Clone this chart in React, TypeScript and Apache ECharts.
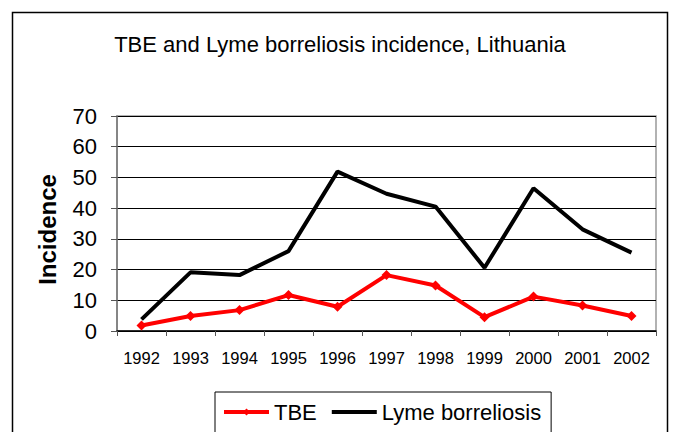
import React, { useEffect, useRef } from "react";
import * as echarts from "echarts";

const years = ["1992", "1993", "1994", "1995", "1996", "1997", "1998", "1999", "2000", "2001", "2002"];
const tbe = [1.8, 4.9, 6.8, 11.7, 7.9, 18.2, 14.8, 4.5, 11.2, 8.3, 4.9];
const lyme = [3.8, 19.1, 18.2, 26.0, 51.9, 44.7, 40.5, 20.6, 46.5, 33.1, 25.5];
const yTicks = { min: 0, max: 70, interval: 10 };

const FONT = "'Liberation Sans', Arial, sans-serif";

export default function App() {
  const ref = useRef<HTMLDivElement>(null);
  useEffect(() => {
    const chart = echarts.init(ref.current!, null, { renderer: "svg" });
    chart.setOption({
      animation: false,
      backgroundColor: "#fff",
      textStyle: { fontFamily: FONT },
      title: {
        text: "TBE and Lyme borreliosis incidence, Lithuania",
        left: 335,
        textAlign: "center",
        top: 28,
        textStyle: { fontFamily: FONT, fontSize: 22, fontWeight: "normal", color: "#000" },
      },
      graphic: [
        {
          type: "rect",
          shape: { x: 12.5, y: 12.5, width: 655, height: 440 },
          style: { fill: "none", stroke: "#000", lineWidth: 1.5 },
          silent: true,
          z: 0,
        },
        {
          type: "text",
          x: 47.5,
          y: 229.5,
          rotation: Math.PI / 2,
          style: {
            text: "Incidence",
            fontFamily: FONT,
            fontSize: 24,
            fontWeight: "bold",
            fill: "#000",
            textAlign: "center",
            textVerticalAlign: "middle",
          },
          silent: true,
        },
      ],
      grid: {
        left: 117,
        right: 17,
        top: 116,
        bottom: 101,
        show: true,
        borderColor: "#999",
        borderWidth: 1.5,
        backgroundColor: "transparent",
      },
      legend: {
        left: 215,
        top: 392,
        padding: [9, 10, 14, 7],
        borderColor: "#000",
        borderWidth: 1,
        backgroundColor: "#fff",
        itemWidth: 45,
        itemHeight: 9,
        itemGap: 13,
        lineStyle: { width: 4 },
        textStyle: { fontFamily: FONT, fontSize: 22, color: "#000" },
        data: [
          { name: "TBE" },
          { name: "Lyme borreliosis", itemStyle: { opacity: 0 } },
        ],
      },
      xAxis: {
        type: "category",
        data: years,
        boundaryGap: true,
        axisLine: { lineStyle: { color: "#000", width: 1.5 } },
        axisTick: { show: true, length: 5, inside: false, lineStyle: { color: "#555" } },
        axisLabel: { fontFamily: FONT, fontSize: 16.5, color: "#000", margin: 18 },
      },
      yAxis: {
        type: "value",
        min: yTicks.min,
        max: yTicks.max,
        interval: yTicks.interval,
        axisLine: { show: true, lineStyle: { color: "#777", width: 1.5 } },
        axisTick: { show: true, length: 6, lineStyle: { color: "#555" } },
        axisLabel: { fontFamily: FONT, fontSize: 22, color: "#000", margin: 20 },
        splitLine: { show: true, lineStyle: { color: "#000", width: 1 } },
      },
      series: [
        {
          name: "Lyme borreliosis",
          type: "line",
          data: lyme,
          symbol: "none",
          lineStyle: { color: "#000", width: 4 },
          itemStyle: { color: "#000" },
          z: 3,
        },
        {
          name: "TBE",
          type: "line",
          data: tbe,
          symbol: "diamond",
          symbolSize: 10,
          lineStyle: { color: "#ff0000", width: 4 },
          itemStyle: { color: "#ff0000" },
          z: 4,
        },
      ],
    });
    return () => chart.dispose();
  }, []);
  return <div ref={ref} style={{ width: 673, height: 432, position: "absolute", left: 0, top: 0 }} />;
}
